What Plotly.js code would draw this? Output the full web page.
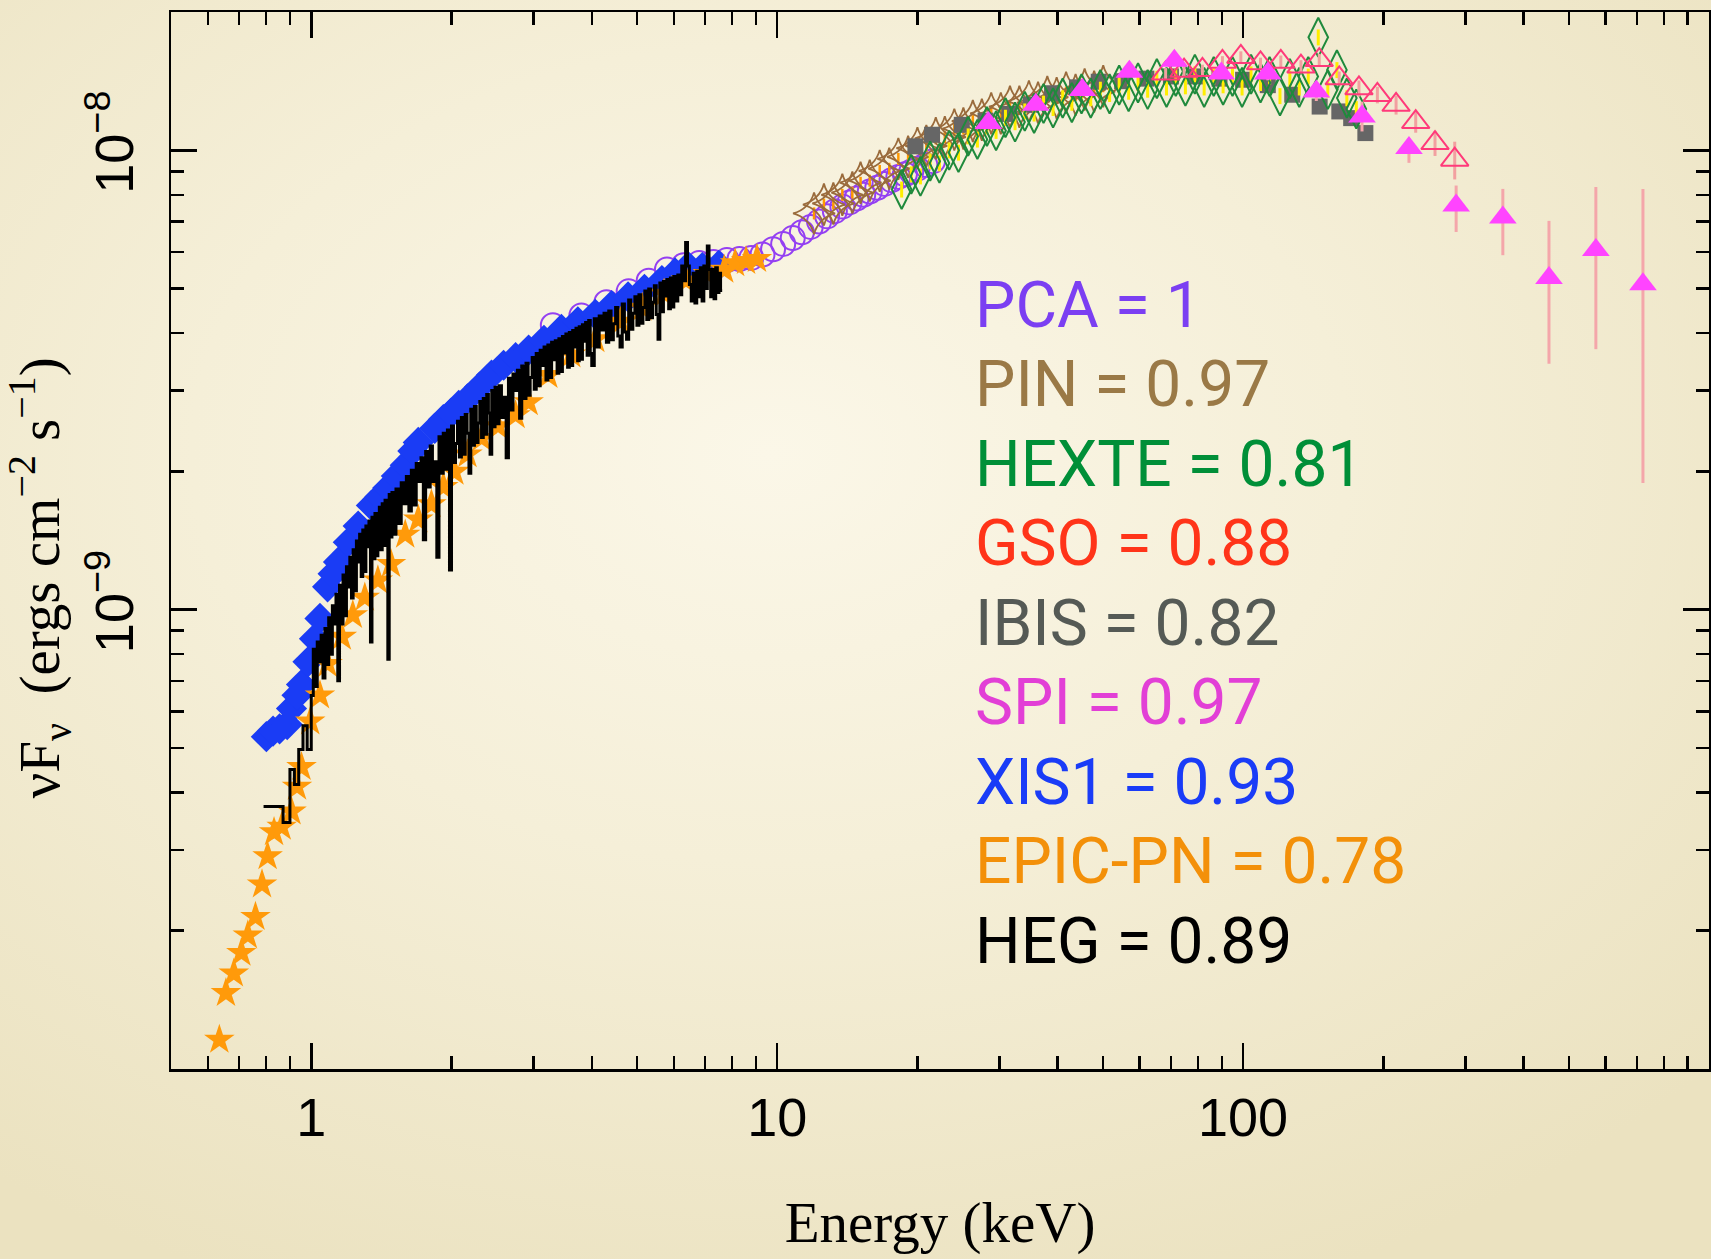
<!DOCTYPE html>
<html>
<head>
<meta charset="utf-8">
<script src="https://cdn.plot.ly/plotly-3.0.1.min.js"></script>
<style>
  html, body { margin: 0; padding: 0; }
  body {
    width: 1711px; height: 1259px; overflow: hidden;
    background: radial-gradient(ellipse 75% 72% at 45% 36%, #fbf7e8 0%, #f5efd8 45%, #ebe2c0 100%);
  }
  #chart { width: 1711px; height: 1259px; }
</style>
</head>
<body>
<div id="chart"></div>
<script>
// ---- Broadband spectrum, nuFnu vs photon energy (keV) ----

// Chandra HEG (step histogram: lower bin edges, last entry closes the final bin)
const hegEnergy = [0.79,0.87,0.90,0.92,0.94,0.96,0.98,
  1.00,1.01,1.02,1.03,1.04,1.05,1.06,1.07,1.08,1.09,
  1.10,1.11,1.12,1.13,1.14,1.15,1.16,1.17,1.18,1.19,
  1.20,1.21,1.22,1.23,1.24,1.25,1.26,1.27,1.28,1.29,
  1.30,1.31,1.32,1.33,1.34,1.35,1.36,1.37,1.38,1.39,
  1.40,1.41,1.42,1.43,1.44,1.45,1.46,1.47,1.48,1.49,
  1.50,
  1.52,1.54,1.56,1.58,1.60,1.62,1.64,1.66,1.68,1.70,
  1.72,1.74,1.76,1.78,1.80,1.82,1.84,1.86,1.88,1.90,
  1.92,1.94,1.96,1.98,2.00,2.02,2.04,2.06,2.08,2.10,
  2.12,2.14,2.16,2.18,2.20,2.22,2.24,2.26,2.28,2.30,
  2.32,2.34,2.36,2.38,2.40,2.42,2.44,2.46,2.48,2.50,
  2.53,2.56,2.59,2.62,2.65,2.68,2.71,2.74,2.77,2.80,
  2.83,2.86,2.89,2.92,2.95,2.98,3.01,3.04,3.07,3.10,
  3.13,3.16,3.19,3.22,3.25,3.28,3.31,3.34,3.37,3.40,
  3.43,3.46,3.49,3.52,3.55,3.58,3.61,3.64,3.67,3.70,
  3.73,3.76,3.79,3.82,3.85,3.88,3.91,3.94,3.97,4.00,
  4.05,4.10,4.15,4.20,4.25,4.30,4.35,4.40,4.45,4.50,
  4.55,4.60,4.65,4.70,4.75,4.80,4.85,4.90,4.95,5.00,
  5.05,5.10,5.15,5.20,5.25,5.30,5.35,5.40,5.45,5.50,
  5.55,5.60,5.65,5.70,5.75,5.80,5.85,5.90,5.95,6.00,
  6.06,6.12,6.18,6.24,6.30,6.36,6.42,6.48,6.54,6.60,
  6.66,6.72,6.78,6.84,6.90,6.96,7.02,7.08,7.14,7.20,
  7.26,7.32,7.38,7.44,7.50,7.56,7.62];
const hegFlux = [0.373e-9,0.344e-9,0.449e-9,0.416e-9,0.496e-9,0.559e-9,0.496e-9,
  0.65e-9,0.82e-9,0.68e-9,0.85e-9,0.77e-9,0.88e-9,0.71e-9,0.91e-9,0.76e-9,0.96e-9,
  0.80e-9,1.02e-9,0.93e-9,1.08e-9,0.70e-9,1.13e-9,0.93e-9,1.19e-9,0.97e-9,1.24e-9,
  1.12e-9,1.30e-9,1.06e-9,1.35e-9,1.10e-9,1.41e-9,1.27e-9,1.46e-9,1.18e-9,1.49e-9,
  1.21e-9,1.52e-9,1.37e-9,1.56e-9,0.85e-9,1.59e-9,1.29e-9,1.62e-9,1.31e-9,1.47e-9,
  1.67e-9,1.35e-9,1.70e-9,1.38e-9,1.73e-9,1.55e-9,0.78e-9,1.78e-9,1.44e-9,1.80e-9,
  1.46e-9,
  1.83e-9,1.54e-9,1.89e-9,1.70e-9,1.95e-9,1.64e-9,2.01e-9,1.69e-9,2.08e-9,1.90e-9,
  2.14e-9,1.42e-9,2.21e-9,1.85e-9,2.27e-9,1.90e-9,2.10e-9,1.30e-9,2.38e-9,1.98e-9,
  2.42e-9,2.02e-9,2.46e-9,1.22e-9,2.51e-9,2.09e-9,2.30e-9,2.57e-9,2.15e-9,2.62e-9,
  2.18e-9,2.66e-9,2.42e-9,1.98e-9,2.73e-9,2.28e-9,2.77e-9,2.31e-9,2.55e-9,2.84e-9,
  2.37e-9,2.88e-9,2.41e-9,2.94e-9,2.68e-9,2.18e-9,3.00e-9,2.50e-9,3.05e-9,2.54e-9,
  3.07e-9,2.62e-9,2.90e-9,2.14e-9,3.19e-9,2.72e-9,3.26e-9,3.00e-9,3.32e-9,2.61e-9,
  3.39e-9,2.88e-9,3.44e-9,2.93e-9,3.20e-9,3.54e-9,3.02e-9,3.61e-9,3.07e-9,3.67e-9,
  3.40e-9,3.73e-9,3.16e-9,3.77e-9,3.20e-9,3.82e-9,3.50e-9,3.85e-9,3.27e-9,3.89e-9,
  3.30e-9,3.93e-9,3.62e-9,3.98e-9,3.37e-9,4.01e-9,3.40e-9,4.05e-9,3.73e-9,4.10e-9,
  3.48e-9,4.13e-9,3.51e-9,4.17e-9,3.84e-9,4.22e-9,3.58e-9,4.26e-9,3.61e-9,3.40e-9,
  4.30e-9,3.73e-9,4.36e-9,4.06e-9,4.42e-9,3.82e-9,4.47e-9,3.87e-9,4.19e-9,4.55e-9,
  3.94e-9,3.73e-9,4.63e-9,4.02e-9,3.88e-9,4.72e-9,4.08e-9,4.42e-9,4.80e-9,4.16e-9,
  4.85e-9,4.20e-9,4.55e-9,4.94e-9,4.28e-9,4.99e-9,4.32e-9,4.67e-9,5.07e-9,4.39e-9,
  3.88e-9,5.14e-9,4.45e-9,5.18e-9,4.82e-9,5.23e-9,4.52e-9,5.27e-9,4.56e-9,5.31e-9,
  4.70e-9,5.35e-9,4.85e-9,5.60e-9,5.20e-9,6.30e-9,5.60e-9,5.10e-9,4.70e-9,5.40e-9,
  4.65e-9,5.45e-9,4.80e-9,5.55e-9,4.70e-9,5.60e-9,5.00e-9,6.19e-9,5.50e-9,4.80e-9,
  5.50e-9,4.75e-9,5.55e-9,4.90e-9,5.40e-9,4.95e-9,4.95e-9];

// XMM EPIC-PN
const epicEnergy = [0.635,0.656,0.682,0.708,0.731,0.759,0.784,0.806,0.832,0.864,0.907,0.932,0.953,0.995,1.044,1.084,1.163,1.228,1.303,1.39,1.483,1.591,1.697,1.811,1.921,2.029,2.164,2.322,2.517,2.745,2.928,3.227,3.614,4.07,4.608,5.134,5.718,6.372,7.1,7.697,8.124,8.575,9.05];
const epicFlux = [1.158e-10,1.463e-10,1.614e-10,1.79e-10,1.953e-10,2.143e-10,2.522e-10,2.905e-10,3.277e-10,3.367e-10,3.634e-10,4.118e-10,4.542e-10,5.707e-10,6.505e-10,7.616e-10,8.727e-10,9.73e-10,1.062e-9,1.158e-9,1.257e-9,1.456e-9,1.571e-9,1.696e-9,1.85e-9,1.996e-9,2.178e-9,2.363e-9,2.509e-9,2.65e-9,2.828e-9,3.241e-9,3.594e-9,3.88e-9,4.232e-9,4.542e-9,4.874e-9,5.204e-9,5.377e-9,5.495e-9,5.677e-9,5.74e-9,5.802e-9];

// Suzaku XIS1
const xisEnergy = [0.801,0.828,0.855,0.888,0.907,0.932,0.953,0.984,1.016,1.044,1.084,1.114,1.144,1.201,1.261,1.346,1.405,1.459,1.523,1.591,1.652,1.697,1.841,1.921,1.996,2.073,2.164,2.297,2.437,2.587,2.745,2.928,3.158,3.443,3.734,4.07,4.413,4.786,5.19,5.657,6.037,6.442,6.909,7.492];
const xisFlux = [5.29e-10,5.44e-10,5.50e-10,5.62e-10,6.09e-10,6.51e-10,6.87e-10,7.70e-10,8.64e-10,9.57e-10,1.121e-9,1.197e-9,1.27e-9,1.402e-9,1.521e-9,1.686e-9,1.762e-9,1.840e-9,1.953e-9,2.063e-9,2.214e-9,2.312e-9,2.482e-9,2.593e-9,2.679e-9,2.783e-9,2.876e-9,3.052e-9,3.241e-9,3.404e-9,3.536e-9,3.673e-9,3.858e-9,4.074e-9,4.232e-9,4.395e-9,4.591e-9,4.795e-9,4.981e-9,5.204e-9,5.408e-9,5.585e-9,5.554e-9,5.616e-9];

// RXTE PCA
const pcaEnergy = [3.3,3.8,4.3,4.8,5.3,5.8,6.3,6.8,7.3,7.8,8.3,8.8,9.3,9.8,10.3,10.8,11.3,11.8,12.3,12.8,13.3,13.8,14.3,14.8,15.3,15.8,16.4,17.0,17.6,18.2,18.8,19.4,20.0,20.8,21.6];
const pcaFlux = [4.16e-9,4.37e-9,4.67e-9,4.93e-9,5.20e-9,5.50e-9,5.62e-9,5.68e-9,5.71e-9,5.77e-9,5.80e-9,5.83e-9,5.93e-9,6.09e-9,6.25e-9,6.44e-9,6.63e-9,6.81e-9,7.00e-9,7.18e-9,7.37e-9,7.54e-9,7.70e-9,7.85e-9,8.00e-9,8.13e-9,8.29e-9,8.45e-9,8.61e-9,8.75e-9,8.87e-9,8.99e-9,9.12e-9,9.29e-9,9.47e-9];

// Suzaku PIN
const pinEnergy = [12.0,12.6,13.2,13.8,14.5,15.1,15.8,16.6,17.4,18.2,19.1,20.0,20.9,21.9,22.9,24.0,25.1,26.3,27.5,28.8,30.2,31.6,33.1,34.7,36.3,38.0,39.8,41.7,43.7,45.7,47.9,50.1];
const pinFlux = [7.29e-9,7.62e-9,7.66e-9,8.00e-9,8.09e-9,8.50e-9,8.59e-9,9.02e-9,9.12e-9,9.58e-9,9.68e-9,1.011e-8,1.022e-8,1.062e-8,1.068e-8,1.109e-8,1.115e-8,1.158e-8,1.165e-8,1.203e-8,1.203e-8,1.244e-8,1.244e-8,1.278e-8,1.270e-8,1.306e-8,1.299e-8,1.335e-8,1.320e-8,1.356e-8,1.342e-8,1.379e-8];

// RXTE HEXTE
const hexteEnergy = [18.5,19.4,20.3,21.3,22.3,23.4,24.5,25.7,26.9,28.2,29.5,30.9,32.4,34.0,35.6,37.3,39.1,41.0,42.9,45.0,47.1,49.4,51.7,54.2,56.8,59.5,62.4,65.3,68.5,71.7,75.2,78.8,82.5,86.5,90.6,94.9,99.5,104,109,114,120,126,132,138,145,152,159,167,175];
const hexteFlux = [0.822e-8,0.887e-8,0.878e-8,0.947e-8,0.937e-8,1.000e-8,0.989e-8,1.073e-8,1.056e-8,1.127e-8,1.103e-8,1.178e-8,1.152e-8,1.216e-8,1.203e-8,1.264e-8,1.237e-8,1.299e-8,1.270e-8,1.327e-8,1.299e-8,1.356e-8,1.327e-8,1.386e-8,1.342e-8,1.402e-8,1.356e-8,1.432e-8,1.371e-8,1.448e-8,1.379e-8,1.464e-8,1.371e-8,1.448e-8,1.386e-8,1.448e-8,1.371e-8,1.464e-8,1.402e-8,1.448e-8,1.313e-8,1.432e-8,1.371e-8,1.448e-8,1.762e-8,1.356e-8,1.496e-8,1.299e-8,1.230e-8];

// Suzaku GSO
const gsoEnergy = [68.2,74.7,81.8,90.3,98.9,109,120.5,133.1,145.7,160.8,177.3,194.2,213,234.7,258.2,284.6];
const gsoFlux = [1.47e-8,1.49e-8,1.496e-8,1.558e-8,1.597e-8,1.546e-8,1.558e-8,1.521e-8,1.572e-8,1.434e-8,1.364e-8,1.320e-8,1.256e-8,1.152e-8,1.037e-8,9.54e-9];
const gsoErr = [0.04e-8,0.04e-8,0.04e-8,0.045e-8,0.045e-8,0.045e-8,0.05e-8,0.05e-8,0.05e-8,0.05e-8,0.055e-8,0.055e-8,0.06e-8,0.06e-8,0.065e-8,0.09e-8];

// INTEGRAL IBIS
const ibisEnergy = [19.8,21.5,24.9,28.0,31.5,35.0,38.9,44.0,49.0,55.0,62.0,70.0,79.0,89.0,100,113,127.5,146,160.9,170.6,183];
const ibisFlux = [1.020e-8,1.081e-8,1.136e-8,1.16e-8,1.20e-8,1.256e-8,1.331e-8,1.371e-8,1.410e-8,1.414e-8,1.432e-8,1.448e-8,1.448e-8,1.432e-8,1.424e-8,1.386e-8,1.321e-8,1.245e-8,1.215e-8,1.175e-8,1.090e-8];

// INTEGRAL SPI (value, upper and lower bounds)
const spiEnergy = [28.4,35.9,45.2,57.0,71.2,89.8,113,143.6,180,227,286.6,361,453.5,571.7,721.5];
const spiFlux = [1.146e-8,1.256e-8,1.353e-8,1.482e-8,1.567e-8,1.47e-8,1.47e-8,1.342e-8,1.184e-8,1.011e-8,7.58e-9,7.14e-9,5.27e-9,6.07e-9,5.11e-9];
const spiHigh = [1.165e-8,1.275e-8,1.378e-8,1.512e-8,1.60e-8,1.51e-8,1.52e-8,1.40e-8,1.276e-8,1.063e-8,8.38e-9,8.24e-9,7.02e-9,8.32e-9,8.24e-9];
const spiLow = [1.128e-8,1.237e-8,1.328e-8,1.452e-8,1.535e-8,1.43e-8,1.42e-8,1.28e-8,1.099e-8,0.939e-8,6.64e-9,5.91e-9,3.43e-9,3.69e-9,1.886e-9];

// Cross-normalisation constants
const instrumentNames = ['PCA','PIN','HEXTE','GSO','IBIS','SPI','XIS1','EPIC-PN','HEG'];
const normFactors = ['1','0.97','0.81','0.88','0.82','0.97','0.93','0.78','0.89'];
const labelColors = ['#7b3ff2','#9a7946','#008f38','#ff3419','#555a55','#e23fd6','#1a3cf7','#f39009','#000000'];

// Axis ticks
const xMajor = [1, 10, 100];
const xMajorText = ['1', '10', '100'];
const xMinor = [0.6,0.7,0.8,0.9,2,3,4,5,6,7,8,9,20,30,40,50,60,70,80,90,200,300,400,500,600,700,800,900];
const yMajor = [1e-9, 1e-8];
const yMajorText = ['10<sup>\u22129</sup>', '10<sup>\u22128</sup>'];
const yMinor = [2e-10,3e-10,4e-10,5e-10,6e-10,7e-10,8e-10,9e-10,2e-9,3e-9,4e-9,5e-9,6e-9,7e-9,8e-9,9e-9];

const traces = [
  { name: 'PCA', type: 'scatter', mode: 'markers', x: pcaEnergy, y: pcaFlux,
    marker: { symbol: 'circle-open', size: 24, color: '#9440f2', line: { width: 2 } } },
  { name: 'PIN', type: 'scatter', mode: 'markers', x: pinEnergy, y: pinFlux,
    error_y: { type: 'percent', value: 3, color: '#ff9900', thickness: 2.5, width: 0 },
    marker: { symbol: 'star-diamond-open', size: 30, color: '#9a6b3c', line: { width: 1.8 } } },
  { name: 'IBIS', type: 'scatter', mode: 'markers', x: ibisEnergy, y: ibisFlux,
    marker: { symbol: 'square', size: 16, color: '#666666' } },
  { name: 'HEXTE', type: 'scatter', mode: 'markers', x: hexteEnergy, y: hexteFlux,
    error_y: { type: 'percent', value: 4, color: '#ffee00', thickness: 3, width: 0 },
    marker: { symbol: 'diamond-tall-open', size: 28, color: '#1f8a3c', line: { width: 2 } } },
  { name: 'GSO', type: 'scatter', mode: 'markers', x: gsoEnergy, y: gsoFlux,
    error_y: { type: 'data', array: gsoErr, color: '#f2a0a0', thickness: 3, width: 0 },
    marker: { symbol: 'triangle-up-open', size: 24, color: '#ff3a7a', line: { width: 2 } } },
  { name: 'SPI', type: 'scatter', mode: 'markers', x: spiEnergy, y: spiFlux,
    error_y: { type: 'data', symmetric: false,
      array: spiHigh.map((v, i) => v - spiFlux[i]),
      arrayminus: spiLow.map((v, i) => spiFlux[i] - v),
      color: '#f4a6aa', thickness: 3, width: 0 },
    marker: { symbol: 'triangle-up', size: 24, color: '#ff44ff' } },
  { name: 'XIS1', type: 'scatter', mode: 'markers', x: xisEnergy, y: xisFlux,
    marker: { symbol: 'diamond', size: 24, color: '#1a3cf5' } },
  { name: 'EPIC-PN', type: 'scatter', mode: 'markers', x: epicEnergy, y: epicFlux,
    marker: { symbol: 'star', size: 23, color: '#ff9a0a' } },
  { name: 'HEG', type: 'scatter', mode: 'lines', x: hegEnergy, y: hegFlux,
    line: { shape: 'hv', color: '#000000', width: 3 } }
];

// Cross-normalisation labels, one row per instrument
const labelTop = 0.7225, labelStep = 0.0752;
const annotations = instrumentNames.map((n, i) => ({
  xref: 'paper', yref: 'paper', x: 0.5215, y: labelTop - i * labelStep,
  xanchor: 'left', yanchor: 'middle', showarrow: false,
  text: n + ' = ' + normFactors[i],
  font: { family: 'Roboto, "Noto Sans", sans-serif', size: 64, color: labelColors[i] }
}));

// Vertical axis title
annotations.push({
  xref: 'paper', yref: 'paper', x: -0.0852, y: 0.465,
  xanchor: 'center', yanchor: 'middle', showarrow: false, textangle: -90,
  text: '\u03bdF<sub>\u03bd</sub>  (ergs cm<sup>\u22122</sup> s<sup>\u22121</sup>)',
  font: { family: '"Liberation Serif", "Times New Roman", serif', size: 57, color: '#000' }
});

const axisCommon = {
  showline: true, linecolor: '#000', linewidth: 2.5, mirror: 'allticks',
  ticks: 'inside', ticklen: 26, tickwidth: 2.5, tickcolor: '#000',
  showgrid: false, zeroline: false,
  tickfont: { family: '"Liberation Sans", Arial, sans-serif', size: 54, color: '#000' }
};

const layout = {
  width: 1711, height: 1259,
  margin: { l: 171, r: 2, t: 12, b: 190 },
  paper_bgcolor: 'rgba(0,0,0,0)', plot_bgcolor: 'rgba(0,0,0,0)',
  showlegend: false,
  xaxis: Object.assign({}, axisCommon, {
    type: 'log', range: [Math.log10(0.5), 3],
    tickmode: 'array', tickvals: xMajor, ticktext: xMajorText,
    minor: { tickmode: 'array', tickvals: xMinor, ticks: 'inside', ticklen: 13, tickwidth: 2.5, tickcolor: '#000', showgrid: false },
    title: { text: 'Energy (keV)', standoff: 56,
      font: { family: '"Liberation Serif", "Times New Roman", serif', size: 57, color: '#000' } }
  }),
  yaxis: Object.assign({}, axisCommon, {
    type: 'log', range: [-10, Math.log10(2e-8)],
    tickmode: 'array', tickvals: yMajor, ticktext: yMajorText, tickangle: -90,
    ticklabelstandoff: 14,
    minor: { tickmode: 'array', tickvals: yMinor, ticks: 'inside', ticklen: 13, tickwidth: 2.5, tickcolor: '#000', showgrid: false }
  }),
  annotations: annotations
};

Plotly.newPlot('chart', traces, layout, { displayModeBar: false, staticPlot: true });
</script>
</body>
</html>
